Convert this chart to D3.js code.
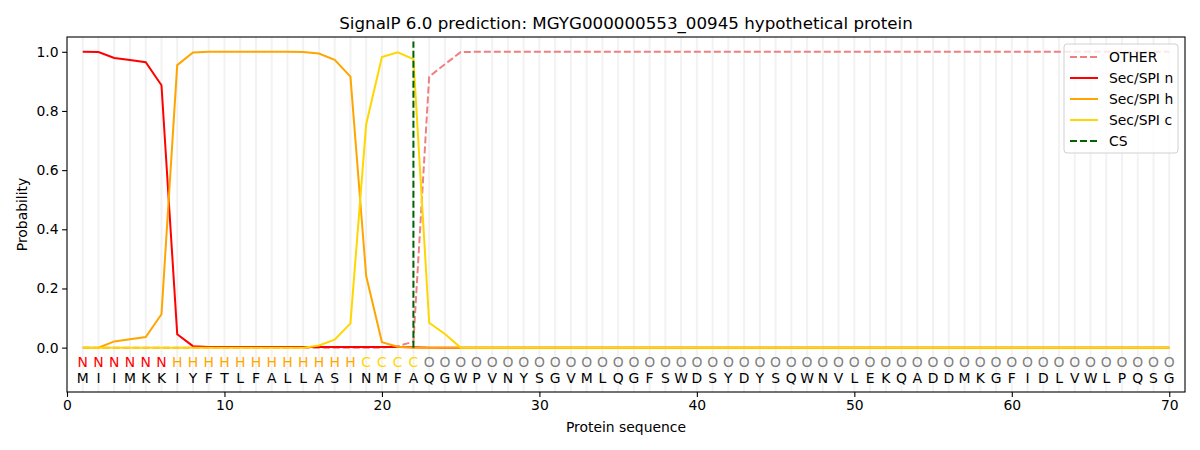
<!DOCTYPE html>
<html>
<head>
<meta charset="utf-8">
<script src="https://cdn.jsdelivr.net/npm/d3@7"></script>
<style>
  body { margin: 0; background: #fff; }
  svg { font-family: "DejaVu Sans", sans-serif; }
</style>
</head>
<body>
<div id="chart"></div>
<script>
// signalp style per-residue probabilities
var title = "SignalP 6.0 prediction: MGYG000000553_00945 hypothetical protein";
var residues = "MIIMKKIYFTLFALLASINMFAQGWPVNYSGVMLQGFSWDSYDYSQWNVLEKQADDMKGFIDLVWLPQSG".split("");
var regions  = "NNNNNNHHHHHHHHHHHHCCCCOOOOOOOOOOOOOOOOOOOOOOOOOOOOOOOOOOOOOOOOOOOOOOOO".split("");
var csPos = 22;

var other = [0,0,0,0,0,0,0,0,0,0, 0,0,0,0,0,0,0,0,0,0,
             0.005,0.02,0.916,0.958,0.999,1,1,1,1,1, 1,1,1,1,1,1,1,1,1,1,
             1,1,1,1,1,1,1,1,1,1, 1,1,1,1,1,1,1,1,1,1,
             1,1,1,1,1,1,1,1,1,1];
var secN  = [1.0,0.999,0.979,0.972,0.965,0.887,0.045,0.005,0.002,0.002,
             0.002,0.002,0.002,0.002,0.002,0.002,0.002,0.002,0.002,0.002,
             0.002,0.001,0,0,0,0,0,0,0,0, 0,0,0,0,0,0,0,0,0,0,
             0,0,0,0,0,0,0,0,0,0, 0,0,0,0,0,0,0,0,0,0,
             0,0,0,0,0,0,0,0,0,0];
var secH  = [0,0,0.021,0.028,0.036,0.113,0.955,0.998,1.0,1.0,
             1.0,1.0,1.0,1.0,0.999,0.994,0.973,0.916,0.242,0.018,
             0.003,0,0,0,0,0,0,0,0,0, 0,0,0,0,0,0,0,0,0,0,
             0,0,0,0,0,0,0,0,0,0, 0,0,0,0,0,0,0,0,0,0,
             0,0,0,0,0,0,0,0,0,0];
var secC  = [0,0,0,0,0,0,0,0,0,0, 0,0,0,0,0,0.007,0.027,0.082,0.755,0.982,
             0.998,0.975,0.084,0.046,0,0,0,0,0,0, 0,0,0,0,0,0,0,0,0,0,
             0,0,0,0,0,0,0,0,0,0, 0,0,0,0,0,0,0,0,0,0,
             0,0,0,0,0,0,0,0,0,0];
var xTicks = [0,10,20,30,40,50,60,70];
var yTicks = [0,0.2,0.4,0.6,0.8,1.0];

var regionColor = {N: "red", H: "orange", C: "gold", O: "gray"};
var series = [
  {name: "OTHER",     values: other, color: "#f08080", dash: "7,3"},
  {name: "Sec/SPI n", values: secN,  color: "red",     dash: null},
  {name: "Sec/SPI h", values: secH,  color: "orange",  dash: null},
  {name: "Sec/SPI c", values: secC,  color: "gold",    dash: null}
];

var W = 1200, H = 450;
var m = {left: 67, right: 15, top: 37, bottom: 58};
var iw = W - m.left - m.right, ih = H - m.top - m.bottom;

var svg = d3.select("#chart").append("svg")
  .attr("width", W).attr("height", H);

var x = d3.scaleLinear().domain([0, 71]).range([0, iw]);
var y = d3.scaleLinear().domain([-0.15, 1.05]).range([ih, 0]);

var g = svg.append("g").attr("transform", "translate(" + m.left + "," + m.top + ")");

// faint per-residue grid
g.selectAll("line.grid").data(residues).enter().append("line")
  .attr("class", "grid")
  .attr("x1", function(d, i) { return x(i + 1); })
  .attr("x2", function(d, i) { return x(i + 1); })
  .attr("y1", 0).attr("y2", ih)
  .style("stroke", "#f2f2f2").style("stroke-width", 2);

var line = d3.line()
  .x(function(d, i) { return x(i + 1); })
  .y(function(d) { return y(d); });

series.forEach(function(s) {
  g.append("path").datum(s.values)
    .attr("d", line)
    .style("fill", "none")
    .style("stroke", s.color)
    .style("stroke-width", 2)
    .style("stroke-dasharray", s.dash);
});

// cleavage site
g.append("line")
  .attr("x1", x(csPos)).attr("x2", x(csPos))
  .attr("y1", y(0)).attr("y2", y(1.035))
  .style("stroke", "darkgreen").style("stroke-width", 2)
  .style("stroke-dasharray", "7,3");

// region letters and residues
g.selectAll("text.reg").data(regions).enter().append("text")
  .attr("class", "reg")
  .attr("x", function(d, i) { return x(i + 1); })
  .attr("y", y(-0.048))
  .attr("dy", "0.36em")
  .attr("text-anchor", "middle")
  .style("font-size", "13.9px")
  .style("fill", function(d) { return regionColor[d]; })
  .text(function(d) { return d; });

g.selectAll("text.res").data(residues).enter().append("text")
  .attr("class", "res")
  .attr("x", function(d, i) { return x(i + 1); })
  .attr("y", y(-0.102))
  .attr("dy", "0.36em")
  .attr("text-anchor", "middle")
  .style("font-size", "13.9px")
  .style("fill", "#000")
  .text(function(d) { return d; });

// axes
var xAxis = g.append("g").attr("transform", "translate(0," + ih + ")")
  .call(d3.axisBottom(x).tickValues(xTicks).tickSize(4.9).tickPadding(3.5).tickFormat(d3.format("d")));
var yAxis = g.append("g")
  .call(d3.axisLeft(y).tickValues(yTicks).tickSize(4.9).tickPadding(3.5).tickFormat(d3.format(".1f")));
[xAxis, yAxis].forEach(function(a) {
  a.selectAll("text").style("font-size", "13.9px").style("font-family", "DejaVu Sans").style("fill", "#000");
  a.selectAll("line").style("stroke", "#000").style("stroke-width", 1.1);
  a.select(".domain").remove();
});

g.append("rect").attr("width", iw).attr("height", ih)
  .style("fill", "none").style("stroke", "#000").style("stroke-width", 1.1);

svg.append("text")
  .attr("x", m.left + iw / 2).attr("y", 29)
  .attr("text-anchor", "middle")
  .style("font-size", "16.7px")
  .text(title);

svg.append("text")
  .attr("x", m.left + iw / 2).attr("y", 432)
  .attr("text-anchor", "middle")
  .style("font-size", "13.9px")
  .text("Protein sequence");

svg.append("text")
  .attr("transform", "translate(27," + (m.top + ih / 2) + ") rotate(-90)")
  .attr("text-anchor", "middle")
  .style("font-size", "13.9px")
  .text("Probability");

// legend
var legItems = series.concat([{name: "CS", color: "darkgreen", dash: "7,3"}]);
var lg = svg.append("g").attr("transform", "translate(1064,44)");
lg.append("rect").attr("width", 114).attr("height", 109).attr("rx", 3)
  .style("fill", "rgba(255,255,255,0.8)").style("stroke", "#d0d0d0");
legItems.forEach(function(s, i) {
  var yy = 13 + i * 21;
  lg.append("line")
    .attr("x1", 6).attr("x2", 34).attr("y1", yy).attr("y2", yy)
    .style("stroke", s.color).style("stroke-width", 2)
    .style("stroke-dasharray", s.dash);
  lg.append("text")
    .attr("x", 45).attr("y", yy).attr("dy", "0.36em")
    .style("font-size", "13.9px")
    .text(s.name);
});
</script>
</body>
</html>
